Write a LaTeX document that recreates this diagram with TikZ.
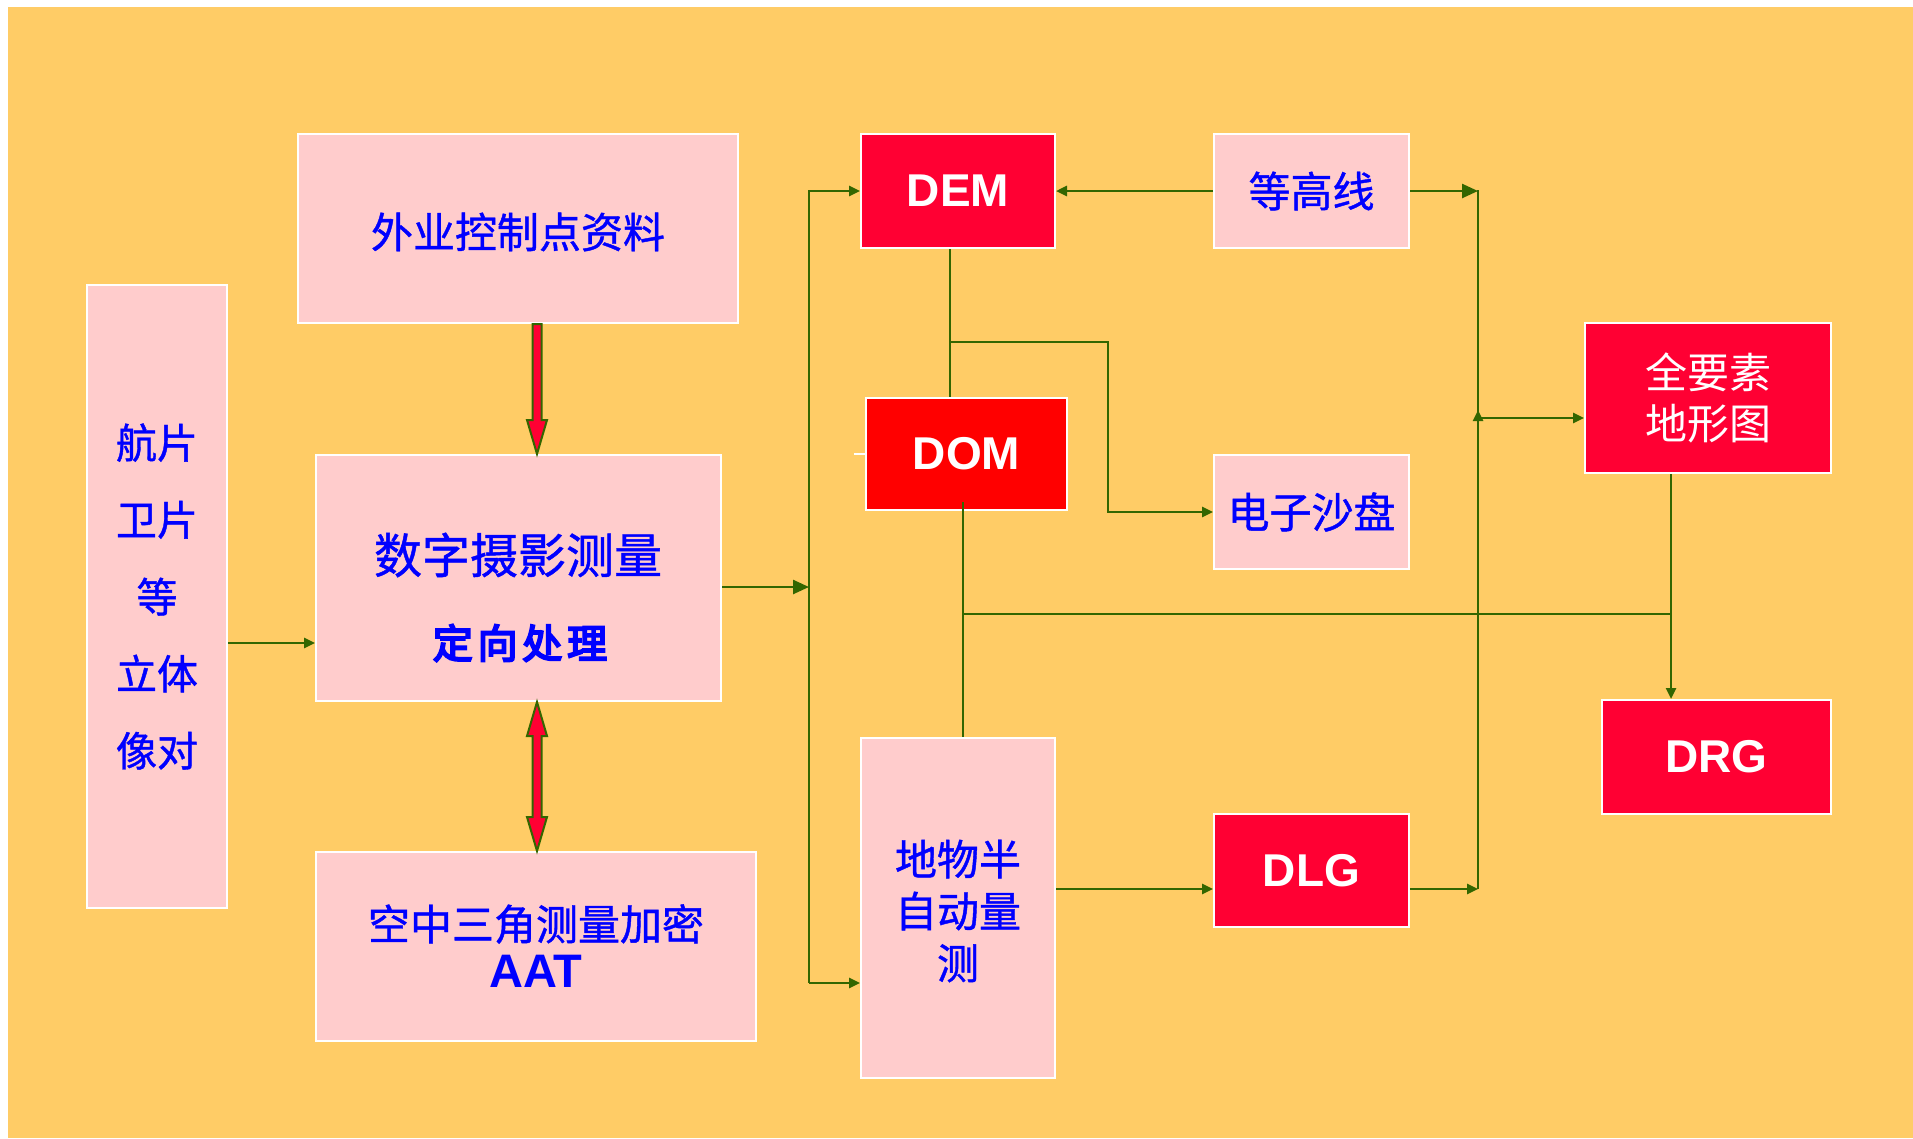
\documentclass[tikz,border=0pt]{standalone}
\usepackage{fontspec}
\setmainfont{Liberation Sans}
\newfontfamily\cjk[FakeBold=1]{Noto Sans CJK SC}
\newfontfamily\cjkw{Noto Sans CJK SC}
\newfontfamily\cjkb[FakeBold=5,LetterSpace=12]{Noto Sans CJK SC}
\usetikzlibrary{arrows.meta,calc}
\definecolor{bgc}{HTML}{FFCC66}
\definecolor{pinkc}{HTML}{FFCCCC}
\definecolor{redA}{HTML}{FF0033}
\definecolor{redB}{HTML}{FF0000}
\definecolor{lineg}{HTML}{336600}
\definecolor{blueT}{HTML}{0000FF}
\begin{document}
\begin{tikzpicture}[x=1pt,y=-1pt,
  box/.style={draw=white,line width=2pt,inner sep=0pt,anchor=center,align=center},
  pinkbox/.style={box,fill=pinkc,text=blueT,font=\cjk\fontsize{42}{50}\selectfont},
  redbox/.style={box,fill=redA,text=white,font=\bfseries\fontsize{46}{50}\selectfont},
  bluecjk/.style={inner sep=0pt,text=blueT,font=\cjk\fontsize{42}{50}\selectfont,align=center},
  conn/.style={draw=lineg,line width=2.5pt},
  thinln/.style={draw=lineg,line width=1.6pt},
  arr/.style={conn,-{Triangle[length=11pt,width=10pt]}},
  bigarr/.style={conn,-{Triangle[length=16pt,width=14pt]}},
  blockarrow/.style={fill=redA,draw=lineg,line width=2pt,line join=miter}]

\useasboundingbox (0,0) rectangle (1913,1138);
\fill[white] (0,0) rectangle (1913,1138);
\fill[bgc] (7.5,7) rectangle (1913,1138);

% helper coordinates
\coordinate (colA) at (537,0);
\coordinate (busx) at (809,0);
\coordinate (cDEM) at (950,0);
\coordinate (cDOM) at (963,0);
\coordinate (kx) at (1108,0);
\coordinate (rbus) at (1478,0);
\coordinate (cDRG) at (1671,0);
\coordinate (r342) at (0,342);
\coordinate (r410) at (0,410);
\coordinate (r418) at (0,418);
\coordinate (r502) at (0,502);
\coordinate (r587) at (0,587);
\coordinate (r614) at (0,614);
\coordinate (r643) at (0,643);
\coordinate (r889) at (0,889);
\coordinate (r983) at (0,983);

% connectors behind boxes
\draw[conn] (busx |- 0,190) -- (busx |- r983);
\draw[conn] (rbus |- 0,190) -- (rbus |- r418);

% boxes
\node[pinkbox,minimum width=140pt,minimum height=623pt,font=\cjk\fontsize{41}{77}\selectfont] (hp) at (157,596.5) {航片\\卫片\\等\\立体\\像对};
\node[pinkbox,minimum width=440pt,minimum height=189pt] (wy) at (518,228.5) {};
\node[bluecjk] (wyt) at (518,232) {外业控制点资料};
\node[pinkbox,minimum width=405pt,minimum height=246pt] (sz) at (518.5,578) {};
\node[bluecjk,font=\cjk\fontsize{48}{50}\selectfont] (szt) at (518,555) {数字摄影测量};
\node[bluecjk,font=\cjkb\fontsize{40}{50}\selectfont] (szd) at (520,643) {定向处理};
\node[pinkbox,minimum width=440pt,minimum height=189pt] (kz) at (536,946.5) {};
\node[bluecjk] (kzt) at (536,924) {空中三角测量加密};
\node[inner sep=0pt,text=blueT,font=\bfseries\fontsize{47}{50}\selectfont] (kza) at (536,971) {AAT};

\node[redbox,minimum width=194pt,minimum height=114pt] (dem) at (958,191) {DEM};
\node[pinkbox,minimum width=195pt,minimum height=114pt] (dgx) at (1311.5,191) {等高线};
\node[redbox,fill=redB,minimum width=201pt,minimum height=112pt] (dom) at (966.5,454) {DOM};
\node[pinkbox,minimum width=195pt,minimum height=114pt] (dzsp) at (1311.5,512) {电子沙盘};
\node[pinkbox,minimum width=194pt,minimum height=340pt] (dw) at (958,908) {};
\node[bluecjk,font=\cjk\fontsize{42}{52}\selectfont] (dwt) at (958,911) {地物半\\自动量\\测};
\node[redbox,minimum width=195pt,minimum height=113pt] (dlg) at (1311.5,870.5) {DLG};
\node[redbox,minimum width=246pt,minimum height=150pt,font=\cjkw\fontsize{42}{51}\selectfont] (qys) at (1708,398) {全要素\\地形图};
\node[redbox,minimum width=229pt,minimum height=114pt] (drg) at (1716.5,757) {DRG};

% block arrows
\coordinate (t1) at (wy.south -| colA);
\coordinate (b1) at (sz.north -| colA);
\draw[blockarrow] ($(t1)+(-4.5,0)$) -- ($(t1)+(4.5,0)$) -- ($(b1)+(4.5,-34)$) -- ($(b1)+(10,-34)$) -- (b1) -- ($(b1)+(-10,-34)$) -- ($(b1)+(-4.5,-34)$) -- cycle;
\coordinate (t2) at (sz.south -| colA);
\coordinate (b2) at (kz.north -| colA);
\draw[blockarrow] (t2) -- ($(t2)+(10,34)$) -- ($(t2)+(4.5,34)$) -- ($(b2)+(4.5,-34)$) -- ($(b2)+(10,-34)$) -- (b2) -- ($(b2)+(-10,-34)$) -- ($(b2)+(-4.5,-34)$) -- ($(t2)+(-4.5,34)$) -- ($(t2)+(-10,34)$) -- cycle;

% connectors
\draw[arr] (hp.east |- r643) -- (sz.west |- r643);
\draw[bigarr] (sz.east |- r587) -- (busx |- r587);
\draw[arr] (busx |- dem.west) -- (dem.west);
\draw[arr] (busx |- r983) -- (dw.west |- r983);
\draw[arr] (dgx.west) -- (dem.east);
\draw[bigarr] (dgx.east) -- (rbus |- dgx.east);
\draw[arr] (rbus |- r889) -- (rbus |- r410);
\draw[arr] (rbus |- r418) -- (qys.west |- r418);
\draw[arr] (dw.east |- r889) -- (dlg.west |- r889);
\draw[arr] (dlg.east |- r889) -- (rbus |- r889);
\draw[conn] (dem.south -| cDEM) -- (dom.north -| cDEM);
\draw[arr] (cDEM |- r342) -| (kx |- dzsp.west) -- (dzsp.west);
\draw[thinln] (cDOM |- r502) -- (cDOM |- dw.north);
\draw[thinln] (cDOM |- r614) -- (cDRG |- r614);
\draw[arr] (qys.south -| cDRG) -- (drg.north -| cDRG);
\draw[white,line width=2pt] (dom.west) -- ++(-11,0);
\end{tikzpicture}
\end{document}
